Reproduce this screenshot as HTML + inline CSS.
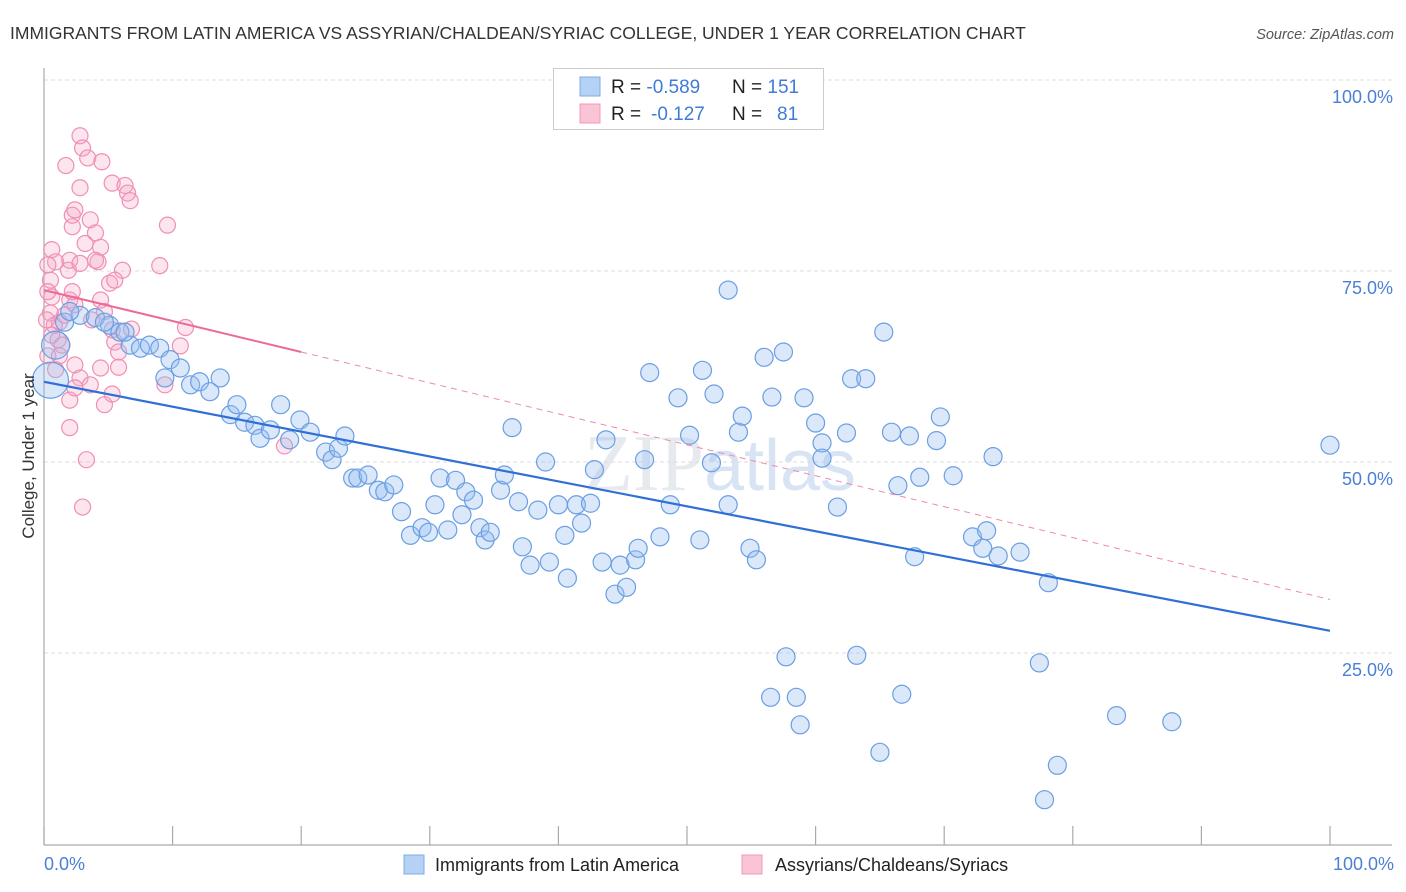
<!DOCTYPE html>
<html><head><meta charset="utf-8"><style>
body{margin:0;background:#fff;font-family:"Liberation Sans",sans-serif}
svg{display:block}
</style></head><body>
<svg id="c" width="1406" height="892" xmlns="http://www.w3.org/2000/svg">
<text x="10" y="39" font-size="17.5" fill="#333">IMMIGRANTS FROM LATIN AMERICA VS ASSYRIAN/CHALDEAN/SYRIAC COLLEGE, UNDER 1 YEAR CORRELATION CHART</text>
<text x="1394" y="39" font-size="14.5" fill="#555" font-style="italic" text-anchor="end">Source: ZipAtlas.com</text>
<text x="720" y="490" font-size="80" fill="#e6e9ee" text-anchor="middle" font-family="Liberation Serif,serif">ZIP<tspan fill="#d8e4f4" font-family="Liberation Sans,sans-serif" font-size="72">atlas</tspan></text>
<g id="grid"></g>
<line x1="44" y1="68" x2="44" y2="845" stroke="#aaa" stroke-width="1.2"/>
<line x1="44" y1="845" x2="1392" y2="845" stroke="#aaa" stroke-width="1.2"/>
<g id="ticks"></g>
<g id="pink"></g><g id="blue"></g><g id="trends"></g>
<text transform="translate(34,456) rotate(-90)" font-size="17" fill="#333" text-anchor="middle">College, Under 1 year</text>
<text x="44" y="870" font-size="18" fill="#4a7fd6">0.0%</text>
<text x="1394" y="870" font-size="18" fill="#4a7fd6" text-anchor="end">100.0%</text>
<g>
<rect x="553.5" y="68.5" width="270" height="61" fill="#fff" stroke="#ccc"/>
<rect x="580" y="77" width="20" height="19" fill="#b5d1f5" stroke="#80abe6"/>
<rect x="580" y="104" width="20" height="19" fill="#f9c4d6" stroke="#f09ab8"/>
<text x="611" y="93" font-size="19" fill="#222">R = <tspan fill="#3f7bd8">-0.589</tspan><tspan x="732">N = </tspan><tspan fill="#3f7bd8">151</tspan></text>
<text x="611" y="120" font-size="19" fill="#222">R = <tspan x="651" fill="#3f7bd8">-0.127</tspan><tspan x="732">N = </tspan><tspan x="777" fill="#3f7bd8">81</tspan></text>
</g>
<g>
<rect x="404" y="855" width="20" height="19" fill="#b5d1f5" stroke="#80abe6"/>
<text x="435" y="871" font-size="18" fill="#222">Immigrants from Latin America</text>
<rect x="742" y="855" width="20" height="19" fill="#f9c4d6" stroke="#f09ab8"/>
<text x="775" y="871" font-size="18" fill="#222">Assyrians/Chaldeans/Syriacs</text>
</g>
</svg>
<script>
const yTicks=[25,50,75,100];
const yTickLabels=["25.0%","50.0%","75.0%","100.0%"];
const xTicks=[0,10,20,30,40,50,60,70,80,90,100];
const blueX=[0.5,0.9,1.6,2.8,4.0,5.1,5.9,6.7,7.5,8.2,9.0,9.8,10.6,9.4,11.4,12.1,12.9,13.7,14.5,15.0,15.6,16.4,16.8,17.6,18.4,19.1,19.9,20.7,21.9,22.4,22.9,23.4,24.0,24.4,25.2,26.0,26.5,27.2,27.8,28.5,29.4,29.9,30.4,31.4,30.8,32.0,32.5,32.8,33.4,33.9,34.3,34.7,35.5,35.8,36.4,36.9,37.2,37.8,38.4,39.0,39.3,40.0,40.5,40.7,41.4,41.8,42.5,42.8,43.4,43.7,44.4,44.8,45.3,46.0,46.2,46.7,47.1,47.9,48.7,49.3,50.2,51.0,51.2,51.9,52.1,53.2,53.2,54.0,54.3,54.9,55.4,56.0,56.6,57.5,57.7,56.5,58.5,58.8,59.1,60.0,60.5,60.5,61.7,62.4,62.8,63.2,63.9,65.0,65.3,65.9,66.4,66.7,67.3,67.7,68.1,69.4,69.7,70.7,72.2,73.0,73.3,73.8,74.2,75.9,77.4,78.1,78.8,77.8,83.4,87.7,100,2.0,4.7,6.3];
const blueY=[60.7,65.3,68.3,69.2,68.9,67.9,67.0,65.3,64.9,65.3,64.9,63.4,62.3,61.0,60.1,60.5,59.2,61.0,56.2,57.5,55.2,54.8,53.1,54.2,57.5,52.9,55.5,53.9,51.3,50.3,51.8,53.4,47.9,47.9,48.3,46.3,46.1,47.0,43.5,40.4,41.4,40.8,44.4,41.1,47.9,47.6,43.1,46.1,45.0,41.4,39.8,40.8,46.3,48.3,54.5,44.8,38.9,36.5,43.7,50.0,36.9,44.4,40.4,34.8,44.4,42.0,44.6,49.0,36.9,52.9,32.7,36.5,33.6,37.2,38.7,50.3,61.7,40.2,44.4,58.4,53.5,39.8,62.0,49.9,58.9,72.5,44.4,53.9,56.0,38.7,37.2,63.7,58.5,64.4,24.5,19.2,19.2,15.6,58.4,55.1,52.5,50.5,44.1,53.8,60.9,24.7,60.9,12.0,67.0,53.9,46.9,19.6,53.4,37.6,48.0,52.8,55.9,48.2,40.2,38.7,41.0,50.7,37.7,38.2,23.7,34.2,10.3,5.8,16.8,16.0,52.2,69.7,68.3,67.0];
const pinkX=[0.6,0.9,0.3,0.5,0.6,0.5,0.8,1.2,1.6,1.1,1.4,0.6,2.0,2.4,2.2,1.9,2.0,2.8,2.2,2.2,2.4,2.8,2.8,3.0,1.7,3.4,4.5,3.6,3.2,4.4,4.0,4.2,4.4,4.7,5.3,5.5,5.8,6.1,5.3,6.3,6.5,6.7,6.8,9.6,9.0,11.0,10.6,9.4,2.4,2.8,2.0,2.0,2.4,3.6,4.4,4.7,5.3,3.3,3.0,5.8,18.7,3.7,0.9,0.3,0.2,5.1,1.2,5.5,0.3,4.0];
const pinkY=[77.8,76.2,75.8,73.8,71.6,69.5,67.9,68.3,69.2,66.0,65.3,66.6,71.2,70.6,72.3,75.1,76.4,76.0,80.8,82.3,83.0,85.9,92.7,91.1,88.8,89.8,89.3,81.7,78.6,78.1,80.0,76.2,71.2,69.7,67.3,65.7,64.4,75.1,86.5,86.2,85.2,84.2,67.4,81.0,75.7,67.6,65.2,60.1,62.7,61.0,58.1,54.5,59.7,60.1,62.3,57.5,58.9,50.3,44.1,62.4,52.1,68.6,62.1,63.9,68.6,73.4,63.9,73.8,72.3,76.4];
const blueTrend=[60.5,27.9];
const pinkTrend=[72.5,32.0];
const pinkSolidEnd=20;
const NS="http://www.w3.org/2000/svg";
function sx(v){return 44+12.86*v;}
function sy(v){return 844-7.64*v;}
function mk(t,a,p){const e=document.createElementNS(NS,t);for(const k in a)e.setAttribute(k,a[k]);document.getElementById(p).appendChild(e);return e;}
yTicks.forEach((v,i)=>{
 const l=mk('line',{x1:44,x2:1392,y1:sy(v),y2:sy(v),stroke:'#ddd','stroke-dasharray':'4,3'},'grid');
 
 
 const t=mk('text',{x:1393,y:sy(v)+23,'font-size':18,fill:'#4a7fd6','text-anchor':'end'},'grid');
 t.textContent=yTickLabels[i];
 
 
});
xTicks.forEach(v=>{
 const l=mk('line',{x1:sx(v),x2:sx(v),y1:826,y2:845,stroke:'#aaa','stroke-width':1.2},'ticks');
 
 
});
pinkX.forEach((x,i)=>{
 const c=mk('circle',{cx:sx(x),cy:sy(pinkY[i]),r:8,fill:'rgba(246,170,200,0.3)',stroke:'#f08fb4','stroke-width':1.2},'pink');
 
 
});
blueX.forEach((x,i)=>{
 const r=i===0?18:(i===1?14:9);
 const c=mk('circle',{cx:sx(x),cy:sy(blueY[i]),r:r,fill:'rgba(150,190,240,0.35)',stroke:'#6a9fe3','stroke-width':1.2},'blue');
 
 
});
function py(x){return pinkTrend[0]+(pinkTrend[1]-pinkTrend[0])*x/100;}
const l1=mk('line',{x1:sx(0),y1:sy(blueTrend[0]),x2:sx(100),y2:sy(blueTrend[1]),stroke:'#2f6fd6','stroke-width':2.2},'trends');


const l2=mk('line',{x1:sx(0),y1:sy(py(0)),x2:sx(pinkSolidEnd),y2:sy(py(pinkSolidEnd)),stroke:'#ec6a98','stroke-width':2},'trends');


const l3=mk('line',{x1:sx(pinkSolidEnd),y1:sy(py(pinkSolidEnd)),x2:sx(100),y2:sy(py(100)),stroke:'#ec8aac','stroke-width':1,'stroke-dasharray':'6,5'},'trends');


</script>
</body></html>
